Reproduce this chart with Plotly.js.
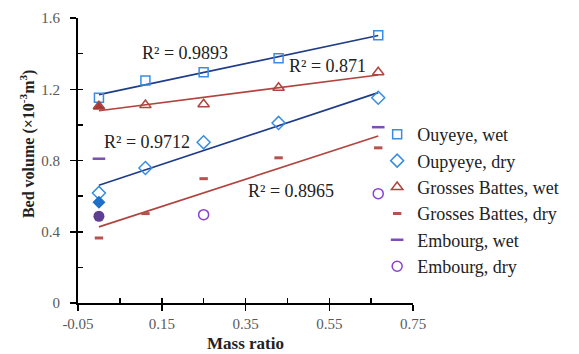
<!DOCTYPE html>
<html>
<head>
<meta charset="utf-8">
<script src="https://cdn.plot.ly/plotly-3.0.1.min.js"></script>
<style>html,body{margin:0;padding:0;background:#fff;}#chart{width:579px;height:354px;}</style>
</head>
<body>
<div id="chart"></div>
<script>
// Mass ratios
const massRatio = [0, 0.111, 0.25, 0.429, 0.667];
// Series values (bed volume, x10^-3 m^3)
const ouyeyeWet = [1.152, 1.249, 1.296, 1.374, 1.503];
const oupyeyeDry = [0.618, 0.758, 0.902, 1.011, 1.152];
const grossesWet = [1.105, 1.111, 1.116, 1.208, 1.295];
const grossesDry = [0.365, 0.502, 0.698, 0.815, 0.871];
const embourgWetX = [0, 0.667];
const embourgWet = [0.81, 0.987];
const embourgDryX = [0.25, 0.667];
const embourgDry = [0.496, 0.614];
// Filled markers at zero mass ratio
const filledX = [0];
const filledTri = [1.10];
const filledDia = [0.565];
const filledCirc = [0.487];
// Tick labels
const xTickVals = [-0.05, 0.15, 0.35, 0.55, 0.75];
const xTickText = ['-0.05', '0.15', '0.35', '0.55', '0.75'];
const yTickVals = [0, 0.4, 0.8, 1.2, 1.6];
const yTickText = ['0', '0.4', '0.8', '1.2', '1.6'];
// R² labels
const r2Labels = ["R² = 0.9893", "R² = 0.871", "R² = 0.9712", "R² = 0.8965"];
const yTitle = '<b>Bed volume (×10<sup>-3</sup>m<sup>3</sup>)</b>';

function fit(x, y) {
  const n = x.length;
  const mx = x.reduce((a, b) => a + b, 0) / n;
  const my = y.reduce((a, b) => a + b, 0) / n;
  let sxy = 0, sxx = 0;
  for (let i = 0; i < n; i++) { sxy += (x[i] - mx) * (y[i] - my); sxx += (x[i] - mx) ** 2; }
  const b = sxy / sxx, a = my - b * mx;
  const xs = [Math.min(...x), Math.max(...x)];
  return { x: xs, y: xs.map(v => a + b * v) };
}

const blue = '#3A8DDE', navy = '#1F3C88', red = '#B0443F', purple = '#7B4FB5', circ = '#8A3FD1';
const serif = 'Liberation Serif, Times New Roman, serif';

function trend(x, y, color) {
  const f = fit(x, y);
  return { x: f.x, y: f.y, mode: 'lines', line: { color: color, width: 1.7 }, showlegend: false, hoverinfo: 'skip', type: 'scatter' };
}

const traces = [
  trend(massRatio, ouyeyeWet, navy),
  trend(massRatio, grossesWet, red),
  trend(massRatio, oupyeyeDry, navy),
  trend(massRatio, grossesDry, red),
  { x: massRatio, y: ouyeyeWet, name: 'Ouyeye, wet', mode: 'markers', type: 'scatter',
    marker: { symbol: 'square-open', size: 9, color: blue, line: { width: 1.5 } } },
  { x: massRatio, y: oupyeyeDry, name: 'Oupyeye, dry', mode: 'markers', type: 'scatter',
    marker: { symbol: 'diamond-open', size: 10, color: blue, line: { width: 1.5 } } },
  { x: massRatio, y: grossesWet, name: 'Grosses Battes, wet', mode: 'markers', type: 'scatter',
    marker: { symbol: 'triangle-up-open', size: 10, color: red, line: { width: 1.5 } } },
  { x: massRatio, y: grossesDry, name: 'Grosses Battes, dry', mode: 'markers', type: 'scatter',
    marker: { symbol: 'line-ew', size: 6, color: red, line: { width: 3, color: '#B5524D' } } },
  { x: embourgWetX, y: embourgWet, name: 'Embourg, wet', mode: 'markers', type: 'scatter',
    marker: { symbol: 'line-ew', size: 9, color: purple, line: { width: 2.5, color: purple } } },
  { x: embourgDryX, y: embourgDry, name: 'Embourg, dry', mode: 'markers', type: 'scatter',
    marker: { symbol: 'circle-open', size: 10, color: circ, line: { width: 1.5 } } },
  { x: filledX, y: filledTri, mode: 'markers', type: 'scatter', showlegend: false,
    marker: { symbol: 'triangle-up', size: 10, color: '#A33A36' } },
  { x: filledX, y: filledDia, mode: 'markers', type: 'scatter', showlegend: false,
    marker: { symbol: 'diamond', size: 10, color: '#1F6FC8' } },
  { x: filledX, y: filledCirc, mode: 'markers', type: 'scatter', showlegend: false,
    marker: { symbol: 'circle', size: 11, color: '#5E3F91' } },
  // overlay for inside ticks
  { x: [0], y: [0], xaxis: 'x2', yaxis: 'y2', mode: 'markers', marker: { opacity: 0 }, showlegend: false, hoverinfo: 'skip', type: 'scatter' }
];

const annPos = [[0.205, 1.406], [0.546, 1.329], [0.114, 0.902], [0.458, 0.631]];
const annotations = r2Labels.map((t, i) => ({
  text: t, x: annPos[i][0], y: annPos[i][1], xref: 'x', yref: 'y', showarrow: false,
  font: { family: serif, size: 18, color: '#222' }
}));
annotations.push({
  text: yTitle, textangle: -90, x: -0.149, y: 0.558, xref: 'paper', yref: 'paper',
  xanchor: 'center', yanchor: 'middle', showarrow: false,
  font: { family: serif, size: 16, color: '#222' }
});

const layout = {
  width: 579, height: 354,
  margin: { l: 78, r: 166, t: 18, b: 51, autoexpand: false },
  paper_bgcolor: '#fff', plot_bgcolor: '#fff',
  showlegend: true,
  legend: { x: 0.893, y: 0.656, xanchor: 'left', yanchor: 'top', font: { family: serif, size: 18, color: '#222' },
            itemsizing: 'trace', itemwidth: 30, tracegroupgap: 0, bgcolor: 'rgba(0,0,0,0)' },
  xaxis: {
    range: [-0.05, 0.75], tickvals: xTickVals, ticktext: xTickText, showgrid: false, zeroline: false,
    showline: true, linecolor: '#000', linewidth: 2, ticks: 'outside', ticklen: 6, tickwidth: 1.5, tickcolor: '#000',
    tickfont: { family: serif, size: 15, color: '#595959' },
    title: { text: '<b>Mass ratio</b>', font: { family: serif, size: 17, color: '#222' }, standoff: 6 }
  },
  yaxis: {
    range: [0, 1.6], tickvals: yTickVals, ticktext: yTickText, showgrid: false, zeroline: false,
    showline: true, linecolor: '#000', linewidth: 2, ticks: 'outside', ticklen: 6, tickwidth: 1.5, tickcolor: '#000',
    tickfont: { family: serif, size: 15, color: '#595959' }, ticklabelstandoff: 7
  },
  xaxis2: { overlaying: 'x', matches: 'x', range: [-0.05, 0.75], tick0: -0.05, dtick: 0.1, ticks: 'inside', ticklen: 5,
            tickwidth: 1.5, tickcolor: '#000', showticklabels: false, showgrid: false, zeroline: false, showline: false, anchor: 'y2' },
  yaxis2: { overlaying: 'y', matches: 'y', range: [0, 1.6], dtick: 0.2, ticks: 'inside', ticklen: 5,
            tickwidth: 1.5, tickcolor: '#000', showticklabels: false, showgrid: false, zeroline: false, showline: false, anchor: 'x2' },
  annotations: annotations
};

Plotly.newPlot('chart', traces, layout, { displayModeBar: false, staticPlot: true });
</script>
</body>
</html>
